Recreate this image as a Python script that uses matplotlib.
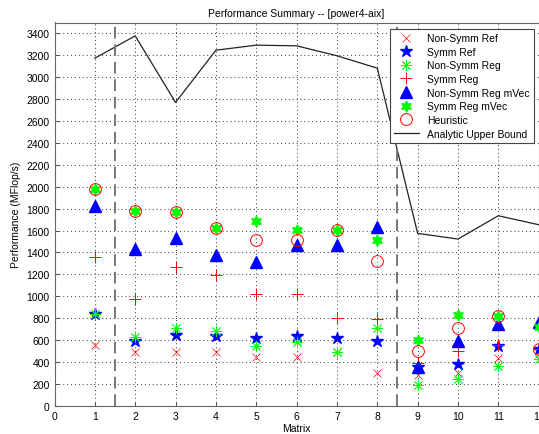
import matplotlib.pyplot as plt

plt.rcParams['font.family'] = ['Liberation Sans', 'DejaVu Sans']
plt.rcParams['font.size'] = 7.5

matrix = list(range(1, 13))
nonsymm_ref = [557, 487, 487, 487, 445, 445, 487, 298, 280, 296, 433, 470]
symm_ref = [834, 594, 648, 639, 615, 634, 615, 594, 350, 381, 548, 518]
nonsymm_reg = [834, 630, 707, 679, 548, 584, 487, 709, 192, 244, 365, 426]
symm_reg = [1360, 974, 1264, 1196, 1020, 1020, 800, 792, 387, 502, 554, 518]
nonsymm_mvec = [1826, 1431, 1528, 1376, 1309, 1470, 1470, 1634, 350, 594, 746, 767]
symm_mvec = [1975, 1780, 1766, 1620, 1683, 1601, 1601, 1516, 603, 828, 822, 716]
heuristic = [1975, 1780, 1766, 1620, 1510, 1516, 1601, 1324, 502, 707, 822, 518]
upper_bound = [3174, 3378, 2770, 3247, 3293, 3287, 3196, 3083, 1574, 1522, 1735, 1653]
separators = [1.5, 8.5]

fig = plt.figure(figsize=(5.39, 4.35), dpi=100)
ax = fig.add_axes([54.5/539, 1 - 406.7/435, (538.7 - 54.5)/539, (406.7 - 23.5)/435])

red = (1, 0, 0)
green = (0, 1, 0)
blue = (0, 0, 1)

ax.plot(matrix, nonsymm_ref, 'x', color=red, ms=5.5, mew=0.5, label='Non-Symm Ref')
ax.plot(matrix, symm_ref, '*', color=blue, ms=9, label='Symm Ref')
ax.plot(matrix, nonsymm_reg, marker=(8, 2, 0), ls='none', color=green, ms=8, mew=0.6, label='Non-Symm Reg')
ax.plot(matrix, symm_reg, '+', color=red, ms=9, mew=0.7, label='Symm Reg')
ax.plot(matrix, nonsymm_mvec, '^', color=blue, ms=8.5, label='Non-Symm Reg mVec')
ax.plot(matrix, symm_mvec, marker=(6, 1, 0), ls='none', color=green, ms=8, label='Symm Reg mVec')
ax.plot(matrix, heuristic, 'o', color=red, mfc='none', ms=8.5, mew=0.7, label='Heuristic')
ax.plot(matrix, upper_bound, '-', color='#222222', lw=0.9, label='Analytic Upper Bound')

for s in separators:
    ax.axvline(s, color='#777777', ls=(0, (6, 3)), lw=1.4)

ax.set_xlim(0, 12)
ax.set_ylim(0, 3500)
ax.set_xticks(range(0, 13))
ax.set_yticks(range(0, 3401, 200))
ax.grid(True, color='#333333', ls=(0, (1, 3)), lw=0.7)
ax.tick_params(direction='in', length=3, color='#555555')
for sp in ax.spines.values():
    sp.set_color('#666666')

ax.set_title('Performance Summary -- [power4-aix]', fontsize=7.5, pad=5)
ax.set_xlabel('Matrix', labelpad=2)
ax.set_ylabel('Performance (MFlop/s)', labelpad=4)

leg = ax.legend(loc='upper right', bbox_to_anchor=(534/539, 1 - 30/435), bbox_transform=fig.transFigure,
                fancybox=False, framealpha=1, edgecolor='#444444', fontsize=7.5,
                borderpad=0.4, labelspacing=0.35, handlelength=2.4, handletextpad=0.8, borderaxespad=0)
leg.get_frame().set_linewidth(0.8)

fig.savefig('out.png', dpi=100)
